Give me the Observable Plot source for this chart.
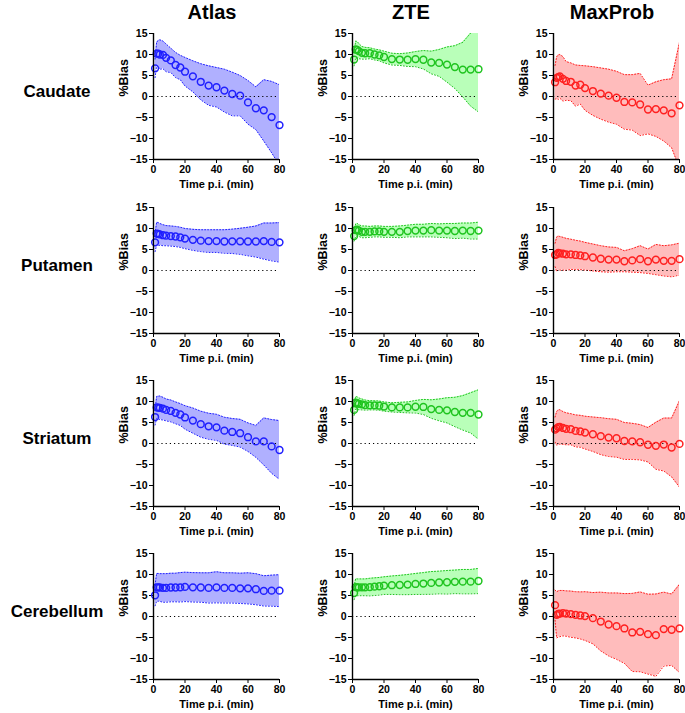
<!DOCTYPE html>
<html>
<head>
<meta charset="utf-8">
<script src="https://cdn.jsdelivr.net/npm/d3@7"></script>
<script src="https://cdn.jsdelivr.net/npm/@observablehq/plot@0.6"></script>
<style>
  html, body { margin: 0; padding: 0; background: #fff; }
  body { width: 685px; height: 713px; position: relative; overflow: hidden;
         font-family: "Liberation Sans", Arial, sans-serif; }
  .lbl { position: absolute; font-weight: bold; color: #000; white-space: nowrap; line-height: 1; }
  .col { font-size: 20px; transform: translateX(-50%); }
  .row { font-size: 17px; transform: translate(-50%, -50%); }
  .panel { position: absolute; }
</style>
</head>
<body>
<div id="root"></div>
<script>
// ---- data ----
const methods = ["Atlas", "ZTE", "MaxProb"];
const regions = ["Caudate", "Putamen", "Striatum", "Cerebellum"];
const times = [1, 2, 3, 4, 6, 8, 11, 14, 17, 20, 25, 30, 35, 40, 45, 50, 55, 60, 65, 70, 75, 80];
const yTicks = [-15, -10, -5, 0, 5, 10, 15];
const xTicks = [0, 20, 40, 60, 80];

// Caudate
const caudateAtlasMean = [6.7, 10.2, 10.2, 10.0, 9.9, 9.2, 8.6, 7.5, 6.9, 5.9, 4.8, 3.5, 2.6, 2.2, 1.4, 0.6, 0.2, -1.4, -2.8, -3.3, -4.9, -6.8];
const caudateAtlasSD   = [2.2, 2.8, 3.1, 3.5, 3.3, 3.3, 2.9, 3.0, 2.9, 3.4, 3.7, 4.3, 4.7, 4.7, 5.1, 5.2, 4.8, 5.2, 5.1, 7.3, 8.5, 9.6];
const caudateZTEMean   = [8.8, 11.2, 11.1, 10.8, 10.4, 10.3, 10.3, 10.0, 9.8, 9.4, 8.9, 8.8, 8.75, 8.9, 8.75, 8.1, 8.0, 7.6, 7.0, 6.4, 6.4, 6.5];
const caudateZTESD     = [1.5, 2.0, 2.0, 1.8, 1.5, 1.4, 1.3, 1.3, 1.3, 1.4, 1.4, 1.4, 1.6, 1.8, 2.2, 2.7, 3.2, 4.2, 5.1, 6.5, 8.7, 10.2];
const caudateMaxProbMean = [3.4, 4.45, 4.6, 4.8, 4.2, 3.7, 3.5, 2.6, 2.8, 2.0, 1.3, 0.7, 0.2, -0.3, -1.3, -1.4, -1.9, -3.1, -3.0, -3.3, -4.0, -2.1];
const caudateMaxProbSD   = [4.0, 5.0, 5.3, 5.2, 5.3, 4.6, 4.5, 4.9, 4.6, 5.3, 5.8, 6.1, 6.3, 6.3, 6.5, 6.6, 7.4, 5.8, 6.5, 7.3, 8.2, 15.0];

// Putamen
const putamenAtlasMean = [6.7, 8.8, 8.7, 8.6, 8.4, 8.3, 8.2, 8.1, 7.9, 7.6, 7.3, 7.1, 7.0, 7.0, 6.9, 6.95, 6.95, 6.9, 6.9, 7.0, 6.8, 6.7];
const putamenAtlasSD   = [2.2, 2.7, 2.7, 2.6, 2.5, 2.4, 2.4, 2.4, 2.4, 2.4, 2.5, 2.6, 2.7, 2.7, 2.8, 2.9, 3.1, 3.4, 3.7, 4.3, 4.5, 4.7];
const putamenZTEMean   = [8.2, 9.6, 9.7, 9.5, 9.2, 9.2, 9.2, 9.3, 9.3, 9.2, 9.2, 9.2, 9.4, 9.5, 9.5, 9.6, 9.5, 9.5, 9.4, 9.5, 9.4, 9.5];
const putamenZTESD     = [1.2, 1.5, 1.5, 1.4, 1.4, 1.4, 1.3, 1.3, 1.3, 1.3, 1.3, 1.4, 1.4, 1.5, 1.5, 1.6, 1.6, 1.7, 1.8, 1.8, 1.9, 2.0];
const putamenMaxProbMean = [3.7, 3.85, 4.2, 4.1, 4.0, 3.85, 3.85, 3.7, 3.6, 3.4, 3.1, 2.8, 2.6, 2.6, 2.2, 2.4, 2.7, 2.2, 2.6, 2.3, 2.3, 2.7];
const putamenMaxProbSD   = [2.8, 4.1, 4.0, 4.0, 3.9, 3.8, 3.6, 3.5, 3.4, 3.3, 3.2, 3.1, 3.0, 2.9, 2.5, 2.8, 3.2, 2.9, 3.6, 3.6, 3.8, 3.8];

// Striatum
const striatumAtlasMean = [6.3, 8.6, 8.55, 8.5, 8.3, 8.0, 7.75, 7.3, 6.9, 6.2, 5.45, 4.6, 4.1, 3.85, 3.05, 2.75, 2.45, 1.5, 0.5, 0.5, -0.7, -1.55];
const striatumAtlasSD   = [1.9, 2.6, 2.7, 2.8, 2.7, 2.6, 2.6, 2.6, 2.6, 2.8, 3.0, 3.1, 3.1, 3.1, 3.2, 3.2, 3.3, 3.4, 3.8, 5.6, 6.4, 7.0];
const striatumZTEMean   = [8.0, 9.7, 9.6, 9.45, 9.3, 9.15, 9.1, 9.1, 9.0, 8.8, 8.6, 8.6, 8.6, 8.75, 8.7, 8.2, 8.0, 7.9, 7.5, 7.3, 7.3, 6.9];
const striatumZTESD     = [1.3, 1.5, 1.5, 1.4, 1.3, 1.2, 1.1, 1.1, 1.1, 1.1, 1.1, 1.2, 1.3, 1.5, 1.8, 2.2, 2.6, 3.0, 3.5, 4.1, 4.8, 5.9];
const striatumMaxProbMean = [3.3, 3.6, 3.9, 3.95, 3.7, 3.5, 3.4, 3.0, 2.9, 2.6, 2.2, 1.75, 1.4, 1.25, 0.6, 0.5, 0.3, -0.3, -0.55, -0.25, -0.95, -0.1];
const striatumMaxProbSD   = [3.0, 4.0, 4.1, 4.1, 3.9, 3.8, 3.7, 3.8, 3.8, 3.9, 4.1, 4.4, 4.5, 4.5, 4.4, 4.3, 4.2, 4.1, 5.6, 6.3, 7.0, 10.3];

// Cerebellum
const cerebellumAtlasMean = [5.05, 6.95, 6.95, 6.9, 6.8, 6.8, 6.9, 6.9, 6.95, 7.05, 6.95, 6.9, 6.8, 6.95, 6.8, 6.8, 6.7, 6.7, 6.5, 6.1, 6.15, 6.15];
const cerebellumAtlasSD   = [2.5, 3.3, 3.3, 3.3, 3.4, 3.4, 3.4, 3.4, 3.5, 3.5, 3.5, 3.5, 3.6, 3.7, 3.6, 3.6, 3.6, 3.7, 3.7, 3.6, 3.7, 3.8];
const cerebellumZTEMean   = [5.6, 7.0, 6.95, 6.95, 6.95, 6.95, 7.0, 7.1, 7.2, 7.35, 7.45, 7.5, 7.6, 7.75, 7.85, 8.0, 8.1, 8.15, 8.25, 8.3, 8.3, 8.45];
const cerebellumZTESD     = [1.6, 2.0, 2.0, 2.0, 2.0, 2.0, 2.1, 2.1, 2.1, 2.1, 2.2, 2.3, 2.4, 2.5, 2.6, 2.7, 2.7, 2.8, 2.8, 2.9, 2.9, 3.0];
const cerebellumMaxProbMean = [2.7, 0.4, 0.6, 0.7, 0.8, 0.7, 0.55, 0.4, 0.25, 0.1, -0.4, -1.2, -1.9, -2.3, -2.85, -3.8, -3.65, -4.2, -4.45, -3.0, -3.15, -2.85];
const cerebellumMaxProbSD   = [3.6, 5.5, 5.5, 5.5, 5.4, 5.4, 5.5, 5.5, 5.6, 5.8, 6.1, 7.0, 7.5, 7.9, 8.3, 9.3, 9.5, 9.5, 9.8, 8.8, 8.5, 10.5];

const series = {
  Caudate:    { Atlas: [caudateAtlasMean, caudateAtlasSD], ZTE: [caudateZTEMean, caudateZTESD], MaxProb: [caudateMaxProbMean, caudateMaxProbSD] },
  Putamen:    { Atlas: [putamenAtlasMean, putamenAtlasSD], ZTE: [putamenZTEMean, putamenZTESD], MaxProb: [putamenMaxProbMean, putamenMaxProbSD] },
  Striatum:   { Atlas: [striatumAtlasMean, striatumAtlasSD], ZTE: [striatumZTEMean, striatumZTESD], MaxProb: [striatumMaxProbMean, striatumMaxProbSD] },
  Cerebellum: { Atlas: [cerebellumAtlasMean, cerebellumAtlasSD], ZTE: [cerebellumZTEMean, cerebellumZTESD], MaxProb: [cerebellumMaxProbMean, cerebellumMaxProbSD] }
};

const pointColors = { Atlas: "#2020ff", ZTE: "#1fc41f", MaxProb: "#ff2020" };
const bandColors  = { Atlas: "#b0b0ff", ZTE: "#b9ffb9", MaxProb: "#ffbcbc" };

// ---- layout ----
const colX = [153, 352, 553];          // x of y-axis line per column
const rowY = [33, 207, 380, 553];      // y of top (15) per row
const PW = 126, PH = 126;
const mL = 55, mT = 12, mR = 6, mB = 38;

const root = document.getElementById("root");
const font = '"Liberation Sans", Arial, sans-serif';

methods.forEach((m, ci) => {
  const d = document.createElement("div");
  d.className = "lbl col";
  d.textContent = m;
  d.style.left = (colX[ci] + PW / 2 - 4) + "px";
  d.style.top = "2px";
  root.appendChild(d);
});

regions.forEach((r, ri) => {
  const d = document.createElement("div");
  d.className = "lbl row";
  d.textContent = r;
  d.style.left = "57px";
  d.style.top = (rowY[ri] + PH / 2 - 5) + "px";
  root.appendChild(d);

  methods.forEach((m, ci) => {
    const [mean, sd] = series[r][m];
    const data = times.map((t, i) => ({ t, mean: mean[i], lo: mean[i] - sd[i], hi: mean[i] + sd[i] }));
    const stroke = pointColors[m];
    const chart = Plot.plot({
      width: mL + PW + mR,
      height: mT + PH + mB,
      marginLeft: mL, marginRight: mR, marginTop: mT, marginBottom: mB,
      style: { fontFamily: font, fontSize: "10.5px", fontWeight: "bold", color: "#000", background: "transparent", overflow: "visible" },
      x: { domain: [0, 80], ticks: xTicks, tickSize: 4, tickPadding: 2, label: null },
      y: { domain: [-15, 15], ticks: yTicks, tickSize: 4, tickPadding: 2, label: null },
      marks: [
        Plot.areaY(data, { x: "t", y1: "lo", y2: "hi", fill: bandColors[m], clip: true }),
        Plot.lineY(data, { x: "t", y: "hi", stroke, strokeWidth: 1, strokeDasharray: "1,2", clip: true }),
        Plot.lineY(data, { x: "t", y: "lo", stroke, strokeWidth: 1, strokeDasharray: "1,2", clip: true }),
        Plot.ruleY([0], { stroke: "#000", strokeWidth: 1, strokeDasharray: "1.2,3" }),
        Plot.dot(data, { x: "t", y: "mean", r: 3.4, stroke, strokeWidth: 1.5, fill: "none" }),
        Plot.ruleX([0], { stroke: "#000", strokeWidth: 1.4 }),
        Plot.ruleY([-15], { stroke: "#000", strokeWidth: 1.4 }),
        Plot.text(["%Bias"], { frameAnchor: "left", dx: -30, rotate: -90, fontSize: 12.5, fontWeight: "bold", fill: "#000" }),
        Plot.text(["Time p.i. (min)"], { frameAnchor: "bottom", dy: 28, fontSize: 11, fontWeight: "bold", fill: "#000" })
      ]
    });
    const wrap = document.createElement("div");
    wrap.className = "panel";
    wrap.style.left = (colX[ci] - mL) + "px";
    wrap.style.top = (rowY[ri] - mT) + "px";
    wrap.appendChild(chart);
    root.appendChild(wrap);
  });
});
</script>
</body>
</html>
